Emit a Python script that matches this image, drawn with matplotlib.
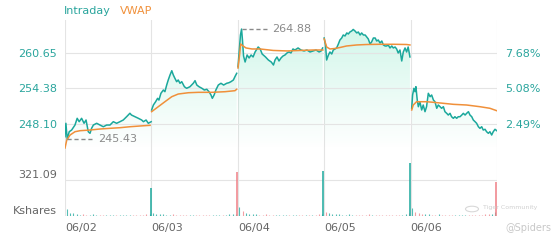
import numpy as np
import matplotlib
matplotlib.use('Agg')
import matplotlib.pyplot as plt
from matplotlib.patches import Circle

# ---------------- data ----------------
days = ['06/02', '06/03', '06/04', '06/05', '06/06']
session_min = 390

# intraday price: minutes since the open, price
d1_t = [0, 4, 10, 19, 30, 45, 55, 64, 75, 86, 95, 105, 113, 120, 128, 143, 158, 173, 188, 203,
        218, 233, 248, 263, 278, 293, 300, 316, 331, 346, 354, 366, 376, 389]
d1_p = [245.86, 248.23, 245.43, 246.74, 247.04, 247.92, 249.11, 248.51, 249.11, 248.23, 248.81,
        246.74, 246.46, 247.34, 247.92, 248.23, 247.92, 247.62, 247.92, 247.92, 248.51, 248.23,
        248.51, 248.81, 249.39, 250.00, 249.69, 249.39, 249.11, 248.81, 248.51, 248.81, 248.23, 248.51]
d2_t = [1, 9, 19, 28, 34, 43, 54, 61, 69, 76, 84, 92, 99, 106, 114, 121, 129, 137, 149, 159, 174,
        189, 197, 205, 215, 228, 239, 250, 260, 269, 275, 283, 291, 302, 314, 326, 340, 350, 359,
        370, 377, 385]
d2_p = [250.58, 251.46, 252.04, 252.64, 252.34, 253.53, 254.11, 253.81, 254.99, 255.88, 256.76,
        257.52, 256.76, 256.18, 255.58, 255.88, 255.30, 255.58, 254.69, 254.41, 254.69, 255.30,
        255.76, 254.99, 254.69, 254.41, 254.11, 254.24, 253.81, 253.23, 252.64, 253.23, 254.11,
        254.99, 255.30, 254.99, 255.30, 255.40, 255.58, 255.88, 256.46, 257.06]
d3_t = [1, 5, 12, 17, 21, 26, 33, 42, 51, 60, 69, 78, 92, 101, 110, 125, 138, 151, 161, 168, 177,
        186, 195, 204, 213, 222, 231, 240, 249, 258, 272, 285, 299, 312, 326, 340, 353, 367, 376, 383]
d3_p = [258.23, 260.30, 263.83, 264.88, 262.95, 260.12, 259.06, 260.30, 259.77, 260.30, 259.95,
        260.83, 261.71, 261.36, 260.47, 259.95, 259.41, 259.06, 258.53, 259.41, 259.95, 259.24,
        259.77, 260.12, 260.30, 260.65, 260.83, 260.65, 261.36, 261.18, 261.54, 261.18, 261.01,
        261.18, 260.83, 261.01, 261.18, 260.83, 261.01, 261.54]
d4_t = [0, 6, 11, 19, 26, 34, 41, 49, 56, 64, 71, 79, 86, 94, 102, 109, 116, 124, 131, 139, 147,
        154, 162, 169, 177, 185, 192, 199, 207, 214, 222, 230, 237, 244, 252, 260, 267, 275, 282,
        289, 297, 305, 312, 320, 327, 334, 342, 350, 357, 365, 372, 379, 387]
d4_p = [263.30, 262.07, 259.41, 260.30, 260.83, 260.47, 261.18, 261.36, 261.54, 262.24, 262.95,
        263.30, 263.83, 263.66, 264.19, 264.01, 264.36, 264.54, 264.81, 264.54, 264.19, 264.36,
        263.83, 264.19, 263.83, 263.83, 263.48, 263.13, 262.24, 262.60, 263.30, 263.30, 262.77,
        262.95, 262.42, 262.77, 262.07, 261.89, 261.89, 262.07, 261.54, 261.89, 261.54, 261.71,
        261.36, 260.65, 261.18, 259.24, 260.83, 261.54, 260.83, 261.71, 259.95]
d5_t = [5, 9, 15, 20, 24, 30, 35, 42, 50, 57, 65, 72, 80, 88, 95, 103, 110, 118, 125, 133, 140,
        148, 155, 163, 170, 178, 185, 193, 200, 208, 215, 223, 231, 238, 246, 253, 261, 268, 276,
        283, 291, 298, 306, 313, 321, 328, 336, 343, 351, 358, 366, 373, 381, 389]
d5_p = [250.88, 253.23, 254.41, 253.81, 254.70, 252.34, 251.16, 252.04, 250.58, 251.46, 250.28,
        251.16, 253.53, 252.93, 253.23, 252.34, 252.04, 250.88, 251.46, 251.16, 250.88, 251.16,
        250.28, 249.99, 249.69, 249.99, 249.39, 249.11, 249.39, 249.11, 249.39, 249.39, 249.69,
        249.99, 249.69, 249.99, 250.28, 249.69, 249.39, 248.81, 248.51, 248.23, 247.62, 247.34,
        247.62, 247.04, 247.17, 246.74, 246.46, 246.74, 246.16, 246.74, 247.17, 246.92]

# VWAP: minutes since the open, price
v1_t = [0, 8, 23, 45, 68, 113, 158, 203, 248, 293, 338, 384]
v1_p = [243.86, 245.27, 246.16, 246.74, 246.92, 247.04, 247.22, 247.34, 247.45, 247.62, 247.75, 247.87]
v2_t = [1, 31, 61, 92, 121, 167, 212, 272, 332, 377, 385]
v2_p = [250.28, 251.16, 252.04, 252.93, 253.40, 253.63, 253.70, 253.70, 253.81, 253.99, 254.24]
v3_t = [1, 8, 13, 24, 37, 64, 101, 160, 223, 282, 340, 384]
v3_p = [258.00, 260.30, 262.24, 261.89, 261.54, 261.36, 261.36, 261.10, 261.01, 261.10, 261.18, 261.18]
v4_t = [0, 11, 26, 49, 71, 101, 147, 192, 252, 312, 372, 387]
v4_p = [263.13, 261.71, 261.36, 261.45, 261.62, 261.89, 262.07, 262.15, 262.19, 262.19, 262.15, 262.07]
v5_t = [5, 12, 27, 42, 72, 102, 148, 193, 253, 313, 358, 389]
v5_p = [250.58, 251.46, 252.04, 252.04, 252.04, 251.94, 251.76, 251.58, 251.46, 251.16, 250.88, 250.45]

# volume (Kshares), 15-minute bins + closing print
vol1 = [62, 25, 30, 15, 12, 18, 10, 9, 14, 8, 10, 12, 9, 7, 11, 8, 9, 10, 8, 12, 9, 11, 10, 13, 15, 20]
vol2 = [28, 20, 15, 22, 12, 10, 14, 9, 11, 8, 10, 9, 12, 8, 7, 9, 10, 8, 11, 9, 10, 12, 10, 14, 16, 22]
vol3 = [80, 45, 30, 22, 18, 15, 12, 10, 14, 9, 11, 8, 10, 9, 12, 8, 10, 9, 11, 8, 10, 9, 12, 10, 14, 18]
vol4 = [35, 25, 20, 15, 18, 12, 10, 20, 9, 11, 8, 10, 9, 14, 8, 10, 9, 11, 8, 10, 9, 12, 10, 13, 15, 25]
vol5 = [70, 40, 28, 20, 15, 18, 12, 10, 14, 9, 11, 8, 10, 9, 12, 8, 10, 9, 11, 8, 10, 12, 14, 16, 20, 35]
close_vol = [250, 392, 401, 473, 303]
close_dir = ['up', 'down', 'up', 'up', 'down']

price_ticks = [248.10, 254.38, 260.65]
pct_labels = ['2.49%', '5.08%', '7.68%']
vol_tick = 321.09
price_range = (243.51, 266.48)
vol_range = (0, 535)

# ---------------- style ----------------
TEAL = '#1ba89c'
TEAL_TXT = '#2aa59d'
ORANGE = '#f0903a'
RED = '#ef7f86'
GRID = '#e4e4e4'
GRAY = '#666666'

W, H = 560, 240
fig = plt.figure(figsize=(W / 100, H / 100), dpi=100)

def fx(px):
    return px / W

def fy(py):
    return 1 - py / H

L, R = 65, 497
ax = fig.add_axes([fx(L), fy(150), fx(R - L), (150 - 20) / H])
axv = fig.add_axes([fx(L), fy(216), fx(R - L), (216 - 156) / H])
bg = fig.add_axes([fx(L), fy(216), fx(R - L), (216 - 20) / H], zorder=-5)
bg.set_xlim(0, 5 * session_min)
bg.set_ylim(0, 1)
bg.axis('off')
for d in range(6):
    bg.axvline(d * session_min, color=GRID, lw=0.8)

price_t = [d1_t, d2_t, d3_t, d4_t, d5_t]
price_p = [d1_p, d2_p, d3_p, d4_p, d5_p]
vwap_t = [v1_t, v2_t, v3_t, v4_t, v5_t]
vwap_p = [v1_p, v2_p, v3_p, v4_p, v5_p]
vols = [vol1, vol2, vol3, vol4, vol5]

# gradient image
n = 256
grad = np.zeros((n, 1, 4))
grad[..., 0] = 0.16
grad[..., 1] = 0.84
grad[..., 2] = 0.60
grad[..., 3] = np.linspace(0.22, 0.0, n).reshape(-1, 1)

lo, hi = price_range
for d in range(5):
    t = np.array(price_t[d]) + d * session_min
    p = np.array(price_p[d])
    poly = ax.fill_between(t, p, lo, color='none', lw=0)
    im = ax.imshow(grad, extent=[t[0], t[-1], lo, hi], aspect='auto', origin='upper',
                   zorder=1, interpolation='bilinear')
    im.set_clip_path(poly.get_paths()[0], transform=ax.transData)
    ax.plot(t, p, color=TEAL, lw=1.1, zorder=3)
    vt = np.array(vwap_t[d]) + d * session_min
    ax.plot(vt, vwap_p[d], color=ORANGE, lw=1.1, zorder=4)

ax.set_xlim(0, 5 * session_min)
ax.set_ylim(lo, hi)
ax.set_yticks(price_ticks)
ax.set_yticklabels([f'{v:.2f}' for v in price_ticks])
ax.tick_params(axis='y', length=0, labelsize=8, labelcolor=TEAL_TXT, pad=6)
ax.set_xticks([])
ax.grid(axis='y', color=GRID, lw=0.8)
for s in ax.spines.values():
    s.set_visible(False)
ax.patch.set_alpha(0)

axr = ax.twinx()
axr.set_ylim(lo, hi)
axr.set_yticks(price_ticks)
axr.set_yticklabels(pct_labels)
axr.tick_params(axis='y', length=0, labelsize=8, labelcolor=TEAL_TXT, pad=6)
for s in axr.spines.values():
    s.set_visible(False)

# max / min annotations
all_t = np.concatenate([np.array(price_t[d]) + d * session_min for d in range(5)])
all_p = np.concatenate([np.array(price_p[d]) for d in range(5)])
px2min = 5 * session_min / (R - L)
for idx in (int(np.argmax(all_p)), int(np.argmin(all_p))):
    tx, ty = all_t[idx], all_p[idx]
    ax.plot([tx, tx + 27 * px2min], [ty, ty], color='#8a8a8a', lw=1, ls=(0, (3, 2)), zorder=5)
    ax.text(tx + 31 * px2min, ty, f'{ty:.2f}', color='#8a8a8a', fontsize=8, va='center', ha='left',
            zorder=5)

# volume
for d in range(5):
    p_t = np.array(price_t[d])
    p_p = np.array(price_p[d])
    for k, v in enumerate(vols[d]):
        t0 = k * 15
        up = np.interp(t0 + 15, p_t, p_p) >= np.interp(t0, p_t, p_p)
        x = d * session_min + t0 + 7
        axv.vlines(x, 0, v, color=TEAL if up else RED, lw=0.8, alpha=0.75)
    axv.vlines(d * session_min + 386, 0, close_vol[d],
               color=TEAL if close_dir[d] == 'up' else RED, lw=1.1)
axv.set_xlim(0, 5 * session_min)
axv.set_ylim(*vol_range)
axv.set_yticks([0, vol_tick])
axv.set_yticklabels(['Kshares', f'{vol_tick:.2f}'])
axv.tick_params(axis='y', length=0, labelsize=8, labelcolor=GRAY, pad=6)
for lab in axv.get_yticklabels():
    lab.set_verticalalignment('bottom')
axv.set_xticks([d * session_min for d in range(5)])
axv.set_xticklabels(days)
for lab in axv.get_xticklabels():
    lab.set_horizontalalignment('left')
axv.tick_params(axis='x', length=0, labelsize=8, labelcolor=GRAY, pad=5)
axv.grid(axis='y', color=GRID, lw=0.8)
for s in axv.spines.values():
    s.set_visible(False)
axv.patch.set_alpha(0)

# legend
fig.text(fx(64), fy(11), 'Intraday', color=TEAL_TXT, fontsize=8, va='center', ha='left')
fig.text(fx(120), fy(11), 'VWAP', color=ORANGE, fontsize=8, va='center', ha='left')

# watermark
fig.patches.append(Circle((fx(472), fy(209)), 6.5 / W, transform=fig.transFigure,
                          fill=False, ec='#d8d8d8', lw=0.8))
fig.text(fx(483), fy(208), 'Tiger Community', color='#d0d0d0', fontsize=4.5, va='center', ha='left')
fig.text(fx(505), fy(228), '@Spiders', color='#c8c8c8', fontsize=7, va='center', ha='left')

fig.savefig('out.png', dpi=100)
